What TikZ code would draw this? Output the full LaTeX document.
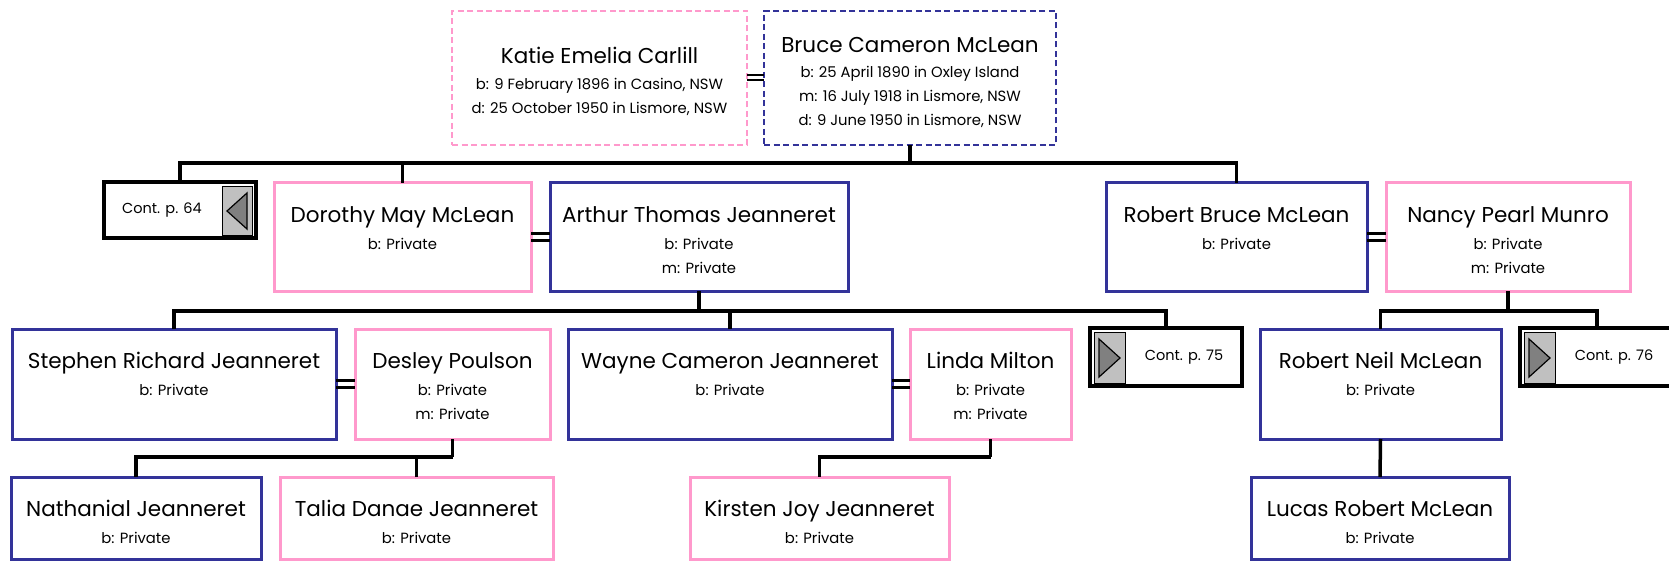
\documentclass[tikz,border=0pt]{standalone}
\usepackage{fontspec}
\setmainfont{Poppins}
\usetikzlibrary{calc}
\definecolor{pinkc}{RGB}{255,153,204}
\definecolor{bluec}{RGB}{51,51,153}
\definecolor{lgray}{RGB}{192,192,192}
\definecolor{dgray}{RGB}{128,128,128}
\tikzset{
  pb/.style={line width=3pt, fill=white, inner sep=0pt, outer sep=0pt, anchor=north west},
  mbox/.style={pb, draw=bluec},
  fbox/.style={pb, draw=pinkc},
  mdash/.style={pb, draw=bluec, line width=2pt, dash pattern=on 6pt off 3.5pt},
  fdash/.style={pb, draw=pinkc, line width=2pt, dash pattern=on 6pt off 3.5pt},
  contbox/.style={draw=black, line width=4.5pt, fill=white, inner sep=0pt, outer sep=0pt, anchor=north west},
  conn/.style={draw=black, line width=3.5pt, line join=miter},
  marr/.style={draw=black, line width=3pt},
  nm/.style={font=\fontsize{21.5}{25}\selectfont, anchor=mid, inner sep=0pt, yshift=-5pt},
  dt/.style={font=\fontsize{14.8}{17}\selectfont, anchor=mid, inner sep=0pt, yshift=-3.5pt},
  ct/.style={font=\fontsize{14.5}{17}\selectfont, anchor=mid, inner sep=0pt},
  grayp/.style={fill=lgray, draw=black, line width=0.8pt},
  tri/.style={fill=dgray, draw=black, line width=1.2pt, line join=miter}
}
\begin{document}
\begin{tikzpicture}[x=1pt,y=-1pt]
\useasboundingbox (0,0) rectangle (1669,561);
\fill[white] (0,0) rectangle (1669,561);

% ---- boxes ----
\node[fdash, minimum width=295pt, minimum height=134pt] (katie) at (452,11) {};
\node[mdash, minimum width=292pt, minimum height=134pt] (bruce) at (764,11) {};

\node[contbox, minimum width=152pt, minimum height=56pt] (cont64) at (104,182) {};
\node[fbox, minimum width=257pt, minimum height=108pt] (dorothy) at (274,183) {};
\node[mbox, minimum width=298pt, minimum height=108pt] (arthur) at (550,183) {};
\node[mbox, minimum width=261pt, minimum height=108pt] (robertb) at (1106,183) {};
\node[fbox, minimum width=244pt, minimum height=108pt] (nancy) at (1386,183) {};

\node[mbox, minimum width=324pt, minimum height=110pt] (stephen) at (12,329) {};
\node[fbox, minimum width=195pt, minimum height=110pt] (desley) at (355,329) {};
\node[mbox, minimum width=324pt, minimum height=110pt] (wayne) at (568,329) {};
\node[fbox, minimum width=161pt, minimum height=110pt] (linda) at (910,329) {};
\node[contbox, minimum width=152pt, minimum height=58pt] (cont75) at (1090,328) {};
\node[mbox, minimum width=241pt, minimum height=110pt] (robertn) at (1260,329) {};
\node[contbox, minimum width=154pt, minimum height=58pt] (cont76) at (1520,328) {};

\node[mbox, minimum width=250pt, minimum height=82pt] (nathanial) at (11,477) {};
\node[fbox, minimum width=273pt, minimum height=82pt] (talia) at (280,477) {};
\node[fbox, minimum width=259pt, minimum height=82pt] (kirsten) at (690,477) {};
\node[mbox, minimum width=258pt, minimum height=82pt] (lucas) at (1251,477) {};

% ---- continuation markers ----
\draw[grayp] ($(cont64.north east)+(-4,4)$) rectangle ($(cont64.south east)+(-34,-3)$);
\draw[tri] ($(cont64.east)+(-29,1)$) -- ($(cont64.north east)+(-9,11)$) -- ($(cont64.south east)+(-9,-9)$) -- cycle;
\draw[grayp] ($(cont75.north west)+(4,4)$) rectangle ($(cont75.south west)+(35,-3)$);
\draw[tri] ($(cont75.west)+(30,1)$) -- ($(cont75.north west)+(9,11)$) -- ($(cont75.south west)+(9,-9)$) -- cycle;
\draw[grayp] ($(cont76.north west)+(4,4)$) rectangle ($(cont76.south west)+(35,-3)$);
\draw[tri] ($(cont76.west)+(30,1)$) -- ($(cont76.north west)+(9,11)$) -- ($(cont76.south west)+(9,-9)$) -- cycle;

\node[ct] (c64t) at (162,211) {Cont. p. 64};
\node[ct] (c75t) at (1184,358) {Cont. p. 75};
\node[ct] (c76t) at (1614,358) {Cont. p. 76};

% ---- texts ----
\node[nm] (t1) at (599.5,56) {Katie Emelia Carlill};
\node[dt] (t2) at (599.5,83) {b: 9 February 1896 in Casino, NSW};
\node[dt] (t3) at (599.5,107) {d: 25 October 1950 in Lismore, NSW};

\node[nm] (t4) at (910,45) {Bruce Cameron McLean};
\node[dt] (t5) at (910,71) {b: 25 April 1890 in Oxley Island};
\node[dt] (t6) at (910,95) {m: 16 July 1918 in Lismore, NSW};
\node[dt] (t7) at (910,119) {d: 9 June 1950 in Lismore, NSW};

\node[nm] (t8) at (402.5,215) {Dorothy May McLean};
\node[dt] (t9) at (402.5,243) {b: Private};

\node[nm] (t10) at (699,215) {Arthur Thomas Jeanneret};
\node[dt] (t11) at (699,243) {b: Private};
\node[dt] (t12) at (699,267) {m: Private};

\node[nm] (t13) at (1236.5,215) {Robert Bruce McLean};
\node[dt] (t14) at (1236.5,243) {b: Private};

\node[nm] (t15) at (1508,215) {Nancy Pearl Munro};
\node[dt] (t16) at (1508,243) {b: Private};
\node[dt] (t17) at (1508,267) {m: Private};

\node[nm] (t18) at (174,361) {Stephen Richard Jeanneret};
\node[dt] (t19) at (174,389) {b: Private};

\node[nm] (t20) at (452.5,361) {Desley Poulson};
\node[dt] (t21) at (452.5,389) {b: Private};
\node[dt] (t22) at (452.5,413) {m: Private};

\node[nm] (t23) at (730,361) {Wayne Cameron Jeanneret};
\node[dt] (t24) at (730,389) {b: Private};

\node[nm] (t25) at (990.5,361) {Linda Milton};
\node[dt] (t26) at (990.5,389) {b: Private};
\node[dt] (t27) at (990.5,413) {m: Private};

\node[nm] (t28) at (1380.5,361) {Robert Neil McLean};
\node[dt] (t29) at (1380.5,389) {b: Private};

\node[nm] (t30) at (136,509) {Nathanial Jeanneret};
\node[dt] (t31) at (136,537) {b: Private};

\node[nm] (t32) at (416.5,509) {Talia Danae Jeanneret};
\node[dt] (t33) at (416.5,537) {b: Private};

\node[nm] (t34) at (819.5,509) {Kirsten Joy Jeanneret};
\node[dt] (t35) at (819.5,537) {b: Private};

\node[nm] (t36) at (1380,509) {Lucas Robert McLean};
\node[dt] (t37) at (1380,537) {b: Private};

% ---- marriage links ----
\draw[marr, line width=2pt] ($(katie.east)+(0,-2.5)$) -- ($(bruce.west)+(0,-2.5)$);
\draw[marr, line width=2pt] ($(katie.east)+(0,2.5)$) -- ($(bruce.west)+(0,2.5)$);
\draw[marr] ($(dorothy.east)+(0,-3.25)$) -- ($(arthur.west)+(0,-3.25)$);
\draw[marr] ($(dorothy.east)+(0,3.25)$) -- ($(arthur.west)+(0,3.25)$);
\draw[marr] ($(robertb.east)+(0,-3.25)$) -- ($(nancy.west)+(0,-3.25)$);
\draw[marr] ($(robertb.east)+(0,3.25)$) -- ($(nancy.west)+(0,3.25)$);
\draw[marr] ($(stephen.east)+(0,-3.25)$) -- ($(desley.west)+(0,-3.25)$);
\draw[marr] ($(stephen.east)+(0,3.25)$) -- ($(desley.west)+(0,3.25)$);
\draw[marr] ($(wayne.east)+(0,-3.25)$) -- ($(linda.west)+(0,-3.25)$);
\draw[marr] ($(wayne.east)+(0,3.25)$) -- ($(linda.west)+(0,3.25)$);

% ---- descent lines ----
\coordinate (g1) at (0,163);
\coordinate (g2) at (0,311);
\coordinate (g3) at (0,457);

\draw[conn] (bruce.south) -- (bruce.south |- g1);
\draw[conn] (cont64.north) -- (cont64.north |- g1) -- (robertb.north |- g1) -- (robertb.north);
\draw[conn] (dorothy.north) -- (dorothy.north |- g1);

\draw[conn] (arthur.south) -- (arthur.south |- g2);
\draw[conn] (stephen.north) -- (stephen.north |- g2) -- (cont75.north |- g2) -- (cont75.north);
\draw[conn] (wayne.north) -- (wayne.north |- g2);

\draw[conn] (nancy.south) -- (nancy.south |- g2);
\draw[conn] (robertn.north) -- (robertn.north |- g2) -- (cont76.north |- g2) -- (cont76.north);

\draw[conn] (desley.south) -- (desley.south |- g3);
\draw[conn] (nathanial.north) -- (nathanial.north |- g3) -- (desley.south |- g3);
\draw[conn] (talia.north) -- (talia.north |- g3);

\draw[conn] (linda.south) -- (linda.south |- g3);
\draw[conn] (kirsten.north) -- (kirsten.north |- g3) -- (linda.south |- g3);

\draw[conn] (robertn.south) -- (lucas.north);
\end{tikzpicture}
\end{document}
